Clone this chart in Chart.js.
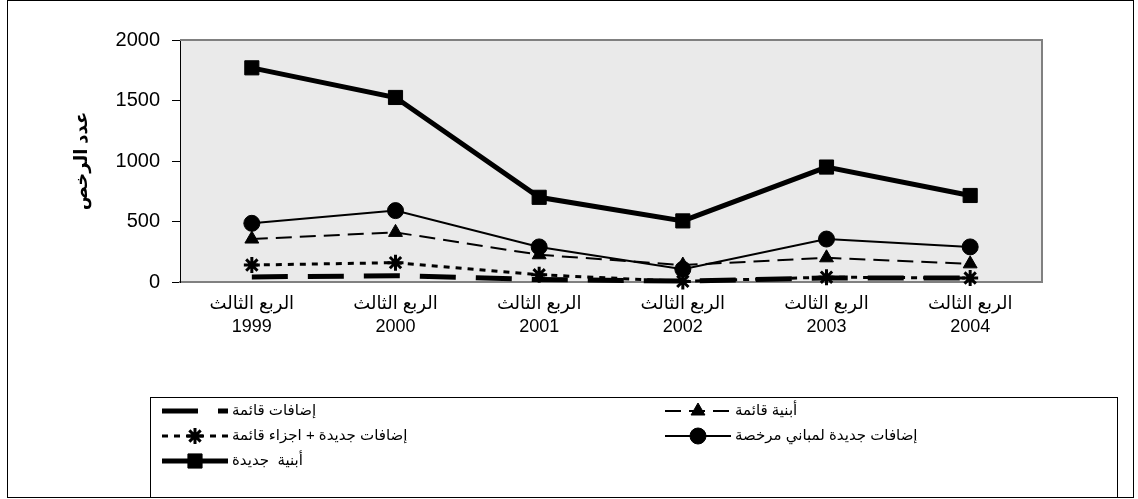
<!DOCTYPE html>
<html lang="ar">
<head>
<meta charset="utf-8">
<title>عدد الرخص</title>
<script src="https://cdn.jsdelivr.net/npm/chart.js@4.4.1/dist/chart.umd.min.js"></script>
<style>
  html, body { margin: 0; padding: 0; background: #fff; }
  #wrap { position: relative; width: 1138px; height: 499px; }
</style>
</head>
<body>
<div id="wrap"><canvas id="chart"></canvas></div>
<script>
'use strict';

// ─── Data ─────────────────────────────────────────────────────────────────────

const quarterLabel = 'الربع الثالث';
const years = ['1999', '2000', '2001', '2002', '2003', '2004'];
const yTitle = 'عدد الرخص';
const yMin = 0;
const yMax = 2000;
const yStep = 500;

const seriesNames = [
  'إضافات قائمة',
  'أبنية قائمة',
  'إضافات جديدة + اجزاء قائمة',
  'إضافات جديدة لمباني مرخصة',
  'أبنية  جديدة',
];

const existingAdditions = [42, 52, 20, 8, 33, 33];
const existingBuildings = [355, 410, 225, 140, 200, 150];
const newPlusParts = [140, 160, 60, 5, 40, 33];
const licensedAdditions = [485, 590, 290, 105, 355, 290];
const newBuildings = [1770, 1525, 700, 505, 950, 715];

// ─── Layout ───────────────────────────────────────────────────────────────────

const FONT = '"Liberation Sans", Arial, "DejaVu Sans", sans-serif';
const PLOT = { left: 180, top: 40, right: 1042, bottom: 282 };
const X_AXIS_HEIGHT = 60;

const legendLayout = {
  box: { left: 150, top: 397, right: 1117, bottom: 497 },
  cols: [162, 665],
  rows: [411, 436, 461],
  symbolWidth: 66,
  gap: 4,
};

Chart.defaults.font.family = FONT;
Chart.defaults.color = '#000';

// ─── Plugins ──────────────────────────────────────────────────────────────────

const frame = {
  id: 'frame',
  beforeDraw(chart) {
    const { ctx, chartArea: a } = chart;
    ctx.save();
    ctx.fillStyle = '#fff';
    ctx.fillRect(0, 0, chart.width, chart.height);
    ctx.fillStyle = '#eaeaea';
    ctx.fillRect(a.left, a.top, a.right - a.left, a.bottom - a.top);
    ctx.strokeStyle = '#000';
    ctx.lineWidth = 1;
    ctx.strokeRect(7.5, 0.5, 1126, 497);
    ctx.restore();
  },
  beforeDatasetsDraw(chart) {
    const { ctx, chartArea: a } = chart;
    ctx.save();
    ctx.strokeStyle = '#808080';
    ctx.lineWidth = 2;
    ctx.beginPath();
    ctx.moveTo(a.left, a.top);
    ctx.lineTo(a.right, a.top);
    ctx.lineTo(a.right, a.bottom);
    ctx.stroke();
    ctx.restore();
  },
};

const boxLegend = {
  id: 'boxLegend',
  afterDraw(chart) {
    const ctx = chart.ctx;
    const L = legendLayout;
    ctx.save();
    ctx.fillStyle = '#fff';
    ctx.fillRect(L.box.left, L.box.top, L.box.right - L.box.left, L.box.bottom - L.box.top);
    ctx.strokeStyle = '#000';
    ctx.lineWidth = 1;
    ctx.strokeRect(L.box.left + 0.5, L.box.top + 0.5, L.box.right - L.box.left, L.box.bottom - L.box.top);

    chart.data.datasets.forEach((ds, i) => {
      const x = L.cols[i % 2];
      const y = L.rows[Math.floor(i / 2)];

      ctx.save();
      ctx.strokeStyle = ds.borderColor;
      ctx.lineWidth = ds.borderWidth;
      ctx.setLineDash(ds.borderDash || []);
      ctx.beginPath();
      ctx.moveTo(x, y);
      ctx.lineTo(x + L.symbolWidth, y);
      ctx.stroke();
      ctx.restore();

      if (ds.pointRadius > 0 && Chart.helpers && Chart.helpers.drawPoint) {
        ctx.save();
        ctx.setLineDash([]);
        ctx.fillStyle = ds.pointBackgroundColor;
        ctx.strokeStyle = ds.pointBorderColor;
        ctx.lineWidth = ds.pointBorderWidth;
        Chart.helpers.drawPoint(ctx, {
          pointStyle: ds.pointStyle,
          radius: ds.pointRadius,
          rotation: 0,
          borderWidth: ds.pointBorderWidth,
        }, x + L.symbolWidth / 2, y);
        ctx.restore();
      }

      ctx.fillStyle = '#000';
      ctx.font = '15px ' + FONT;
      ctx.textAlign = 'left';
      ctx.textBaseline = 'middle';
      ctx.fillText(ds.label, x + L.symbolWidth + L.gap, y);
    });
    ctx.restore();
  },
};

// ─── Chart ────────────────────────────────────────────────────────────────────

function series(label, data, style) {
  return Object.assign({
    label,
    data,
    borderColor: '#000',
    pointBackgroundColor: '#000',
    pointBorderColor: '#000',
    pointBorderWidth: 1,
    tension: 0,
    clip: false,
  }, style);
}

const datasets = [
  series(seriesNames[0], existingAdditions, {
    borderWidth: 5, borderDash: [36, 20], pointRadius: 0, pointStyle: false,
  }),
  series(seriesNames[1], existingBuildings, {
    borderWidth: 2, borderDash: [16, 8], pointRadius: 8, pointStyle: 'triangle',
  }),
  series(seriesNames[2], newPlusParts, {
    borderWidth: 3, borderDash: [6, 6], pointRadius: 8, pointStyle: 'star', pointBorderWidth: 3,
  }),
  series(seriesNames[3], licensedAdditions, {
    borderWidth: 2, pointRadius: 8, pointStyle: 'circle',
  }),
  series(seriesNames[4], newBuildings, {
    borderWidth: 5, pointRadius: 10, pointStyle: 'rect',
  }),
];

new Chart(document.getElementById('chart'), {
  type: 'line',
  data: {
    labels: years.map(y => [quarterLabel, y]),
    datasets,
  },
  plugins: [frame, boxLegend],
  options: {
    responsive: true,
    maintainAspectRatio: false,
    animation: false,
    layout: {
      padding: {
        left: 0,
        top: PLOT.top,
        right: 1138 - PLOT.right,
        bottom: 499 - PLOT.bottom - X_AXIS_HEIGHT,
      },
    },
    plugins: {
      legend: { display: false },
      tooltip: { enabled: false },
    },
    scales: {
      x: {
        offset: true,
        grid: { display: false, drawTicks: false },
        border: { display: true, color: '#808080', width: 2 },
        ticks: {
          padding: 10,
          maxRotation: 0,
          autoSkip: false,
          font: { size: 18, lineHeight: 1.3 },
        },
        afterFit(scale) { scale.height = X_AXIS_HEIGHT; },
      },
      y: {
        min: yMin,
        max: yMax,
        grid: { drawOnChartArea: false, drawTicks: true, tickLength: 8, color: '#000' },
        border: { display: true, color: '#000', width: 1 },
        ticks: {
          stepSize: yStep,
          padding: 12,
          font: { size: 20 },
          callback: (value) => String(value),
        },
        title: {
          display: true,
          text: yTitle,
          font: { size: 18, weight: 'bold' },
          padding: { top: 71, bottom: 0 },
        },
        afterFit(scale) { scale.width = PLOT.left; },
      },
    },
  },
});
</script>
</body>
</html>
